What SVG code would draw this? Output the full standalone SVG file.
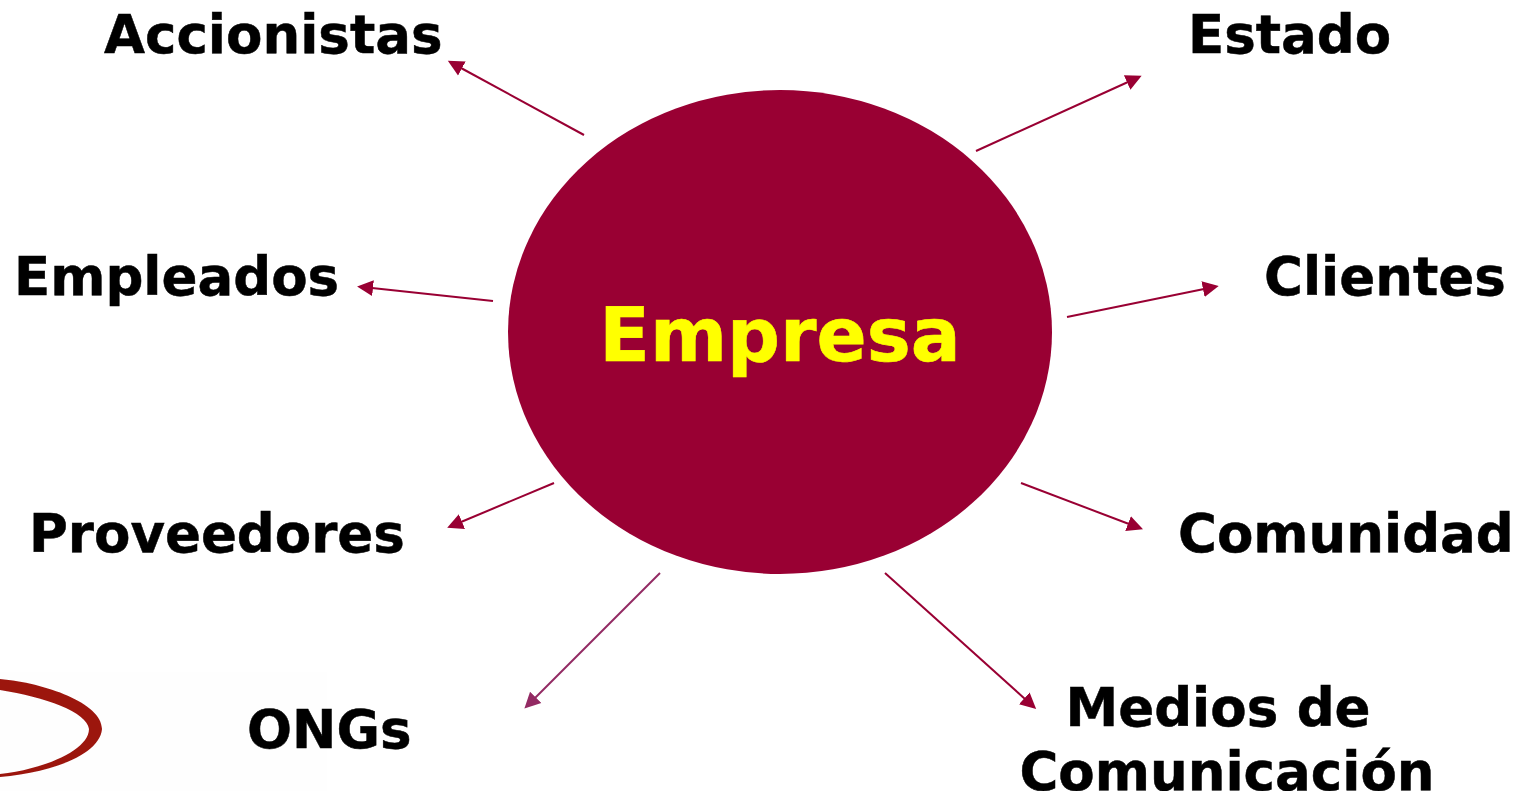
<svg xmlns="http://www.w3.org/2000/svg" width="1517" height="791" viewBox="0 0 1517 791">
<style>
.t{font-family:"DejaVu Sans",Verdana,sans-serif;font-weight:700;font-size:53px;fill:#000;stroke:#000;stroke-width:.5px}
.c{stroke:#990033;stroke-width:2;fill:none;marker-end:url(#a)}
</style>
<defs>
<marker id="a" markerUnits="userSpaceOnUse" markerWidth="17" markerHeight="17" refX="1" refY="8" orient="auto" viewBox="0 0 17 16"><path d="M0 0L16 8L0 16Z" fill="#990033"/></marker>
<marker id="b" markerUnits="userSpaceOnUse" markerWidth="17" markerHeight="17" refX="1" refY="8" orient="auto" viewBox="0 0 17 16"><path d="M0 0L16 8L0 16Z" fill="#932a63"/></marker>
<filter id="s" x="-5%" y="-5%" width="110%" height="110%"><feGaussianBlur stdDeviation="0.7"/></filter>
</defs>
<rect width="1517" height="791" fill="#fff"/>
<g id="logo">
<rect x="0" y="672" width="327" height="119" fill="#fefefe"/>
<path d="M0 679C45 683 102 703 102 729C100 755 50 773 0 777L0 774C45 769 89 750 89 729C87 712 45 697 0 690Z" fill="#9c1510" filter="url(#s)"/>
<path d="M8 787H320" stroke="#e4e4e4" stroke-width="4" stroke-dasharray="40 6 70 8 55 10" fill="none" filter="url(#s)"/>
</g>
<g id="connectors">
<path class="c" d="M584 135L461 68"/>
<path class="c" d="M976 151L1128 82"/>
<path class="c" d="M493 301L372 288"/>
<path class="c" d="M1067 317L1204 289"/>
<path class="c" d="M554 483L461 522"/>
<path class="c" d="M1021 483L1129 524"/>
<path d="M660 573L535 698" stroke="#932a63" stroke-width="2" fill="none" marker-end="url(#b)"/>
<path class="c" d="M885 573L1025 699"/>
</g>
<g id="empresa">
<ellipse cx="780" cy="332" rx="272" ry="242" fill="#990033"/>
<text x="780" y="361" text-anchor="middle" font-family="DejaVu Sans, Verdana, sans-serif" font-weight="700" font-size="74" fill="#ffff00" stroke="#ffff00" stroke-width=".6">Empresa</text>
</g>
<g id="accionistas"><text class="t" x="104" y="53">Accionistas</text></g>
<g id="estado"><text class="t" x="1188" y="53">Estado</text></g>
<g id="empleados"><text class="t" x="14" y="295">Empleados</text></g>
<g id="clientes"><text class="t" x="1264" y="295">Clientes</text></g>
<g id="proveedores"><text class="t" x="29" y="552">Proveedores</text></g>
<g id="comunidad"><text class="t" x="1178" y="552">Comunidad</text></g>
<g id="ongs"><text class="t" x="247" y="748">ONGs</text></g>
<g id="medios"><text class="t" x="1218" y="726" text-anchor="middle">Medios de</text><text class="t" x="1227" y="790" text-anchor="middle">Comunicación</text></g>
</svg>
